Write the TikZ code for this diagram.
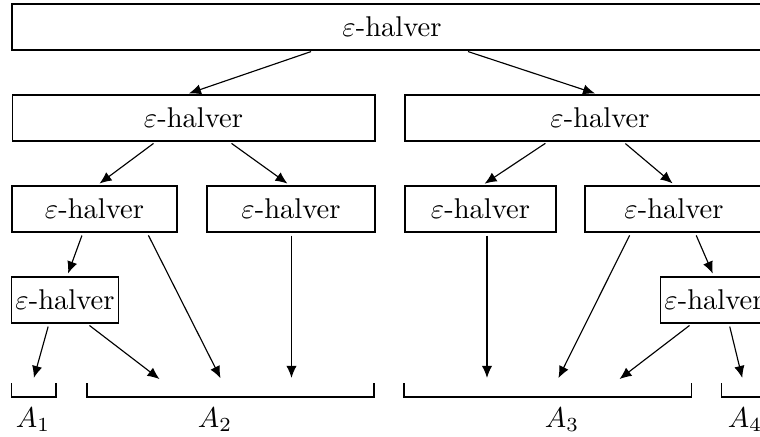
\documentclass[tikz,border=0pt]{standalone}
\usepackage{tikz}
\usetikzlibrary{arrows.meta}
\tikzset{
  halver/.style={rectangle,draw,inner sep=1.4pt,minimum height=16.1pt,align=center},
  arrow/.style={-{Latex[length=4.2pt,width=3.6pt]},shorten <=1.1pt,shorten >=1.1pt},
  bracket/.style={draw,line width=0.4pt},
  grouplabel/.style={anchor=base,inner sep=0pt}
}

\begin{document}
\begin{tikzpicture}[x=0.35pt,y=-0.35pt]
    \useasboundingbox (0,0) rectangle (760,437);
    % halvers, level by level
    \node[halver,minimum width=266pt] (h0) at (392,27) {$\varepsilon$-halver};
    \node[halver,minimum width=127pt] (h1a) at (193.5,118) {$\varepsilon$-halver};
    \node[halver,minimum width=136.5pt] (h1b) at (600,118) {$\varepsilon$-halver};
    \node[halver,minimum width=57.75pt] (h2a) at (94.5,209) {$\varepsilon$-halver};
    \node[halver,minimum width=58.8pt] (h2b) at (291,209) {$\varepsilon$-halver};
    \node[halver,minimum width=52.85pt] (h2c) at (480.5,209) {$\varepsilon$-halver};
    \node[halver,minimum width=62.3pt] (h2d) at (674,209) {$\varepsilon$-halver};
    \node[halver,minimum width=37.3pt] (h3a) at (65,300) {$\varepsilon$-halver};
    \node[halver,minimum width=36.4pt] (h3b) at (714,300) {$\varepsilon$-halver};
    % output groups
    \coordinate (g1) at (11.7,383);
    \coordinate (g2) at (87,383);
    \coordinate (g3) at (404,383);
    \coordinate (g4) at (721.7,383);
    \draw[bracket] (g1) |- ++(44.3,14) -- ++(0,-14);
    \draw[bracket] (g2) |- ++(287,14) -- ++(0,-14);
    \draw[bracket] (g3) |- ++(287.7,14) -- ++(0,-14);
    \draw[bracket] (g4) |- ++(44.3,14) -- ++(0,-14);
    \node[grouplabel] (A1) at (33,427) {$A_1$};
    \node[grouplabel] (A2) at (215,427) {$A_2$};
    \node[grouplabel] (A3) at (562,427) {$A_3$};
    \node[grouplabel] (A4) at (745,427) {$A_4$};
    % connections
    \draw[arrow] ([shift={(-78,0)}]h0.south) -- ([shift={(-7.5,0)}]h1a.north);
    \draw[arrow] ([shift={(73,0)}]h0.south) -- ([shift={(-2,0)}]h1b.north);
    \draw[arrow] ([shift={(-37.5,0)}]h1a.south) -- ([shift={(2.5,0)}]h2a.north);
    \draw[arrow] ([shift={(35.5,0)}]h1a.south) -- ([shift={(-1,0)}]h2b.north);
    \draw[arrow] ([shift={(-52,0)}]h1b.south) -- ([shift={(1.5,0)}]h2c.north);
    \draw[arrow] ([shift={(23,0)}]h1b.south) -- ([shift={(1,0)}]h2d.north);
    \draw[arrow] ([shift={(-11.5,0)}]h2a.south) -- ([shift={(2,0)}]h3a.north);
    \draw[arrow] ([shift={(52.5,0)}]h2a.south) -- ([shift={(135,-2)}]g2);
    \draw[arrow] ([shift={(0.5,0)}]h2b.south) -- ([shift={(204.5,-2)}]g2);
    \draw[arrow] ([shift={(6.5,0)}]h2c.south) -- ([shift={(83,-2)}]g3);
    \draw[arrow] ([shift={(-43,0)}]h2d.south) -- ([shift={(153,-2)}]g3);
    \draw[arrow] ([shift={(21,0)}]h2d.south) -- (h3b.north);
    \draw[arrow] ([shift={(-16,0)}]h3a.south) -- ([shift={(21.3,-2)}]g1);
    \draw[arrow] ([shift={(22,0)}]h3a.south) -- ([shift={(75,-2)}]g2);
    \draw[arrow] ([shift={(-22,0)}]h3b.south) -- ([shift={(213,-2)}]g3);
    \draw[arrow] ([shift={(15,0)}]h3b.south) -- ([shift={(21.3,-2)}]g4);
\end{tikzpicture}
\end{document}
